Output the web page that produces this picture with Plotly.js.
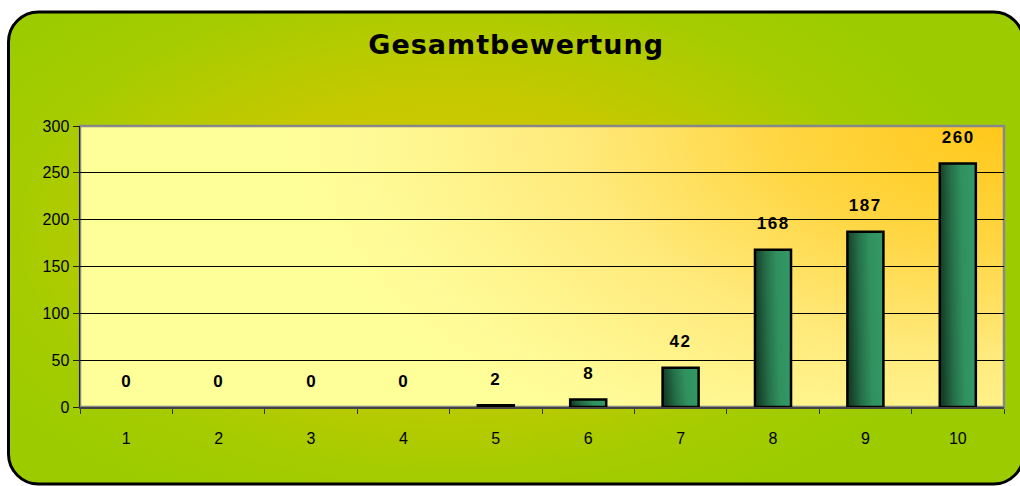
<!DOCTYPE html>
<html>
<head>
<meta charset="utf-8">
<script src="https://cdn.plot.ly/plotly-3.0.1.min.js"></script>
<style>html,body{margin:0;padding:0;background:#fff;}#chart{width:1020px;height:486px;}</style>
</head>
<body>
<div id="chart"></div>
<script>
const chartTitle = 'Gesamtbewertung';
const categories = ['1','2','3','4','5','6','7','8','9','10'];
const values = [0, 0, 0, 0, 2, 8, 42, 168, 187, 260];
const yTicks = [0, 50, 100, 150, 200, 250, 300];

const paperSvg = "<svg xmlns='http://www.w3.org/2000/svg' width='1020' height='486' viewBox='0 0 1020 486'>" +
  "<defs><radialGradient id='p' gradientUnits='userSpaceOnUse' cx='0' cy='0' r='1' gradientTransform='translate(450 230) scale(540 300)'>" +
  "<stop offset='0' stop-color='#d6c800'/><stop offset='0.45' stop-color='#c6c900'/><stop offset='0.8' stop-color='#a6cc00'/><stop offset='1' stop-color='#9ccc00'/>" +
  "</radialGradient></defs>" +
  "<rect x='8.5' y='12' width='1015' height='472' rx='30' ry='30' fill='url(#p)' stroke='#000' stroke-width='3'/></svg>";

const plotSvg = "<svg xmlns='http://www.w3.org/2000/svg' width='924' height='281' viewBox='0 0 924 281' preserveAspectRatio='none'>" +
  "<defs><radialGradient id='q' gradientUnits='userSpaceOnUse' cx='0' cy='0' r='1' gradientTransform='translate(924 0) scale(720 380)'>" +
  "<stop offset='0' stop-color='#ffc81a'/><stop offset='0.3' stop-color='#ffd540'/><stop offset='0.6' stop-color='#ffea7c'/><stop offset='0.9' stop-color='#fffb98'/><stop offset='1' stop-color='#ffff99'/>" +
  "</radialGradient></defs>" +
  "<rect x='0' y='0' width='924' height='281' fill='url(#q)'/></svg>";

const toUri = s => 'data:image/svg+xml;charset=utf-8,' + encodeURIComponent(s);

const trace = {
  type: 'bar',
  x: categories,
  y: values,
  marker: { color: '#2e8a5c', line: { color: '#000', width: values.map(v => v > 0 ? 2.5 : 0) } },
  hoverinfo: 'x+y'
};

const annotations = categories.map((c, i) => ({
  x: i, y: values[i], xref: 'x', yref: 'y',
  text: '<b>' + values[i] + '</b>',
  showarrow: false, yanchor: 'middle', yshift: 26,
  font: { family: 'Liberation Sans, Arial, sans-serif', size: 17, color: '#000' }
}));

const layout = {
  width: 1020, height: 486,
  margin: { l: 80, r: 16, t: 126, b: 79 },
  paper_bgcolor: '#ffffff',
  plot_bgcolor: 'rgba(0,0,0,0)',
  title: {
    text: '<b>' + chartTitle + '</b>',
    font: { family: 'DejaVu Sans, sans-serif', size: 27, color: '#000' },
    x: 0.506, xanchor: 'center', y: 1 - 45/486, yanchor: 'middle', yref: 'container'
  },
  bargap: 0.61,
  showlegend: false,
  xaxis: {
    type: 'category',
    categoryorder: 'array', categoryarray: categories,
    range: [-0.5, categories.length - 0.5], autorange: false,
    tickson: 'boundaries', ticks: 'outside', ticklen: 5, tickcolor: '#333', tickwidth: 1,
    showline: true, linecolor: '#444', linewidth: 2,
    showgrid: false, zeroline: false,
    ticklabelstandoff: 16,
    tickfont: { family: 'Liberation Sans, Arial, sans-serif', size: 16, color: '#000' }
  },
  yaxis: {
    range: [0, 300], autorange: false, tickvals: yTicks, ticktext: yTicks.map(String),
    ticks: 'outside', ticklen: 6, tickcolor: '#222', tickwidth: 1,
    showline: true, linecolor: '#222', linewidth: 1.5,
    showgrid: true, gridcolor: '#000', gridwidth: 1,
    zeroline: false,
    tickfont: { family: 'Liberation Sans, Arial, sans-serif', size: 16, color: '#000' }
  },
  images: [
    { source: toUri(paperSvg), xref: 'paper', yref: 'paper', x: -80/924, y: 1 + 126/281,
      sizex: 1020/924, sizey: 486/281, sizing: 'stretch', xanchor: 'left', yanchor: 'top', layer: 'below' },
    { source: toUri(plotSvg), xref: 'paper', yref: 'paper', x: 0, y: 1, sizex: 1, sizey: 1,
      sizing: 'stretch', xanchor: 'left', yanchor: 'top', layer: 'below' }
  ],
  shapes: [
    { type: 'rect', xref: 'paper', yref: 'paper', x0: 0, y0: 0, x1: 1, y1: 1,
      line: { color: '#888', width: 2.5 }, layer: 'below' }
  ],
  annotations: annotations
};

Plotly.newPlot('chart', [trace], layout, { displayModeBar: false, staticPlot: true }).then(gd => {
  const svg = gd.querySelector('.main-svg');
  const ns = 'http://www.w3.org/2000/svg';
  let defs = svg.querySelector('defs');
  if (!defs) { defs = document.createElementNS(ns, 'defs'); svg.insertBefore(defs, svg.firstChild); }
  const lg = document.createElementNS(ns, 'linearGradient');
  lg.setAttribute('id', 'barGrad');
  lg.setAttribute('x1', '0'); lg.setAttribute('y1', '0.1');
  lg.setAttribute('x2', '1'); lg.setAttribute('y2', '0');
  [['0', '#153f27'], ['0.3', '#256f49'], ['0.6', '#30915e'], ['1', '#349868']].forEach(([o, c]) => {
    const st = document.createElementNS(ns, 'stop');
    st.setAttribute('offset', o); st.setAttribute('stop-color', c);
    lg.appendChild(st);
  });
  defs.appendChild(lg);
  gd.querySelectorAll('.trace.bars .point path').forEach(p => { p.style.fill = 'url(#barGrad)'; });
  gd.querySelectorAll('.annotation-text').forEach(t => { t.style.letterSpacing = '1.5px'; });
  const tt = gd.querySelector('.gtitle');
  if (tt) tt.style.letterSpacing = '1px';
});
</script>
</body>
</html>
